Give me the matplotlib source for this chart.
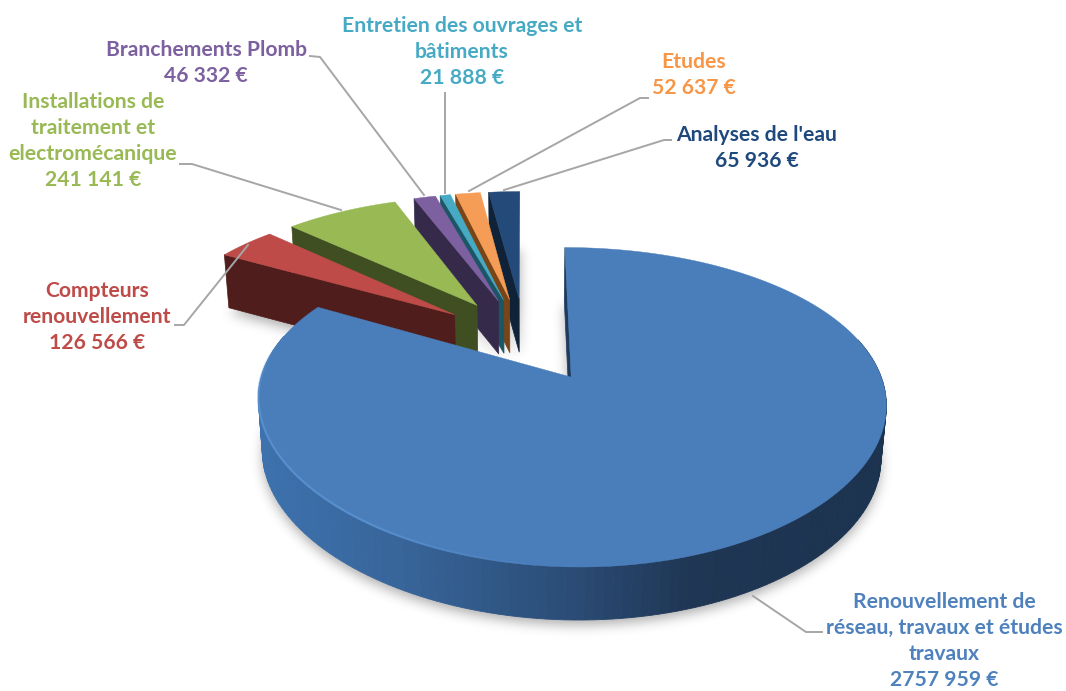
#!/usr/bin/env python3

import numpy as np
import matplotlib
matplotlib.use("Agg")
import matplotlib.pyplot as plt
from matplotlib.colors import LinearSegmentedColormap
from matplotlib.path import Path

plt.rcParams['font.family'] = ['Lato', 'DejaVu Sans']

# Pie data, clockwise from 12 o'clock
categories = ["Renouvellement de réseau, travaux et études travaux", "Compteurs renouvellement",
              "Installations de traitement et electromécanique", "Branchements Plomb",
              "Entretien des ouvrages et bâtiments", "Etudes", "Analyses de l'eau"]
values = [2757959, 126566, 241141, 46332, 21888, 52637, 65936]
labels = ["Renouvellement de\nréseau, travaux et études\ntravaux\n2757 959 €",
          "Compteurs\nrenouvellement\n126 566 €",
          "Installations de\ntraitement et\nelectromécanique\n241 141 €",
          "Branchements Plomb\n46 332 €",
          "Entretien des ouvrages et\nbâtiments\n21 888 €",
          "Etudes\n52 637 €",
          "Analyses de l'eau\n65 936 €"]

top_colors = ["#4a7ebb", "#be4b48", "#98b954", "#7d60a0", "#46aac5", "#f59d56", "#234a78"]
side_colors = ["#1f3a5f", "#4f1d1b", "#3f4f22", "#362a4a", "#1c5566", "#7a4516", "#0f2238"]

# Where the text goes (x, y of text centre, pixels) and its leader line
label_pos = [(944, 641), (97, 317), (93, 141), (206, 63), (462, 52), (694, 75), (757, 148)]
leaders = [[(822, 632), (806, 632), (753, 596)],
           [(175, 325), (184, 325), (248, 245)],
           [(180, 164), (192, 164), (341, 210)],
           [(310, 56), (320, 57), (424, 195)],
           [(445, 93), (445, 193)],
           [(648, 98), (640, 98), (469, 191)],
           [(671, 140), (664, 140), (504, 190)]]
label_colors = ["#4f81bd", "#be4b48", "#98b954", "#7d60a0", "#46aac5", "#f79646", "#1f497d"]

# Projection of the 3D pie
x0, y0 = 524.5, 339
scale_x, scale_y = 298, 140
persp_x, persp_y = 0.15, 0.18
explode = 0.30
depth = 53


def project(u, v, low=False):
    x = x0 + scale_x * u / (1 + persp_x * v)
    y = y0 - scale_y * v / (1 + persp_y * v)
    if low:
        x = x0 + (x - x0) * 0.985
        y = y + depth
    return x, y


def polar(theta, r=1.0):
    return r * np.sin(theta), r * np.cos(theta)


fractions = np.array(values) / sum(values)
edges = np.deg2rad(np.concatenate([[0], np.cumsum(fractions) * 360]))

fig = plt.figure(figsize=(10.66, 6.91), dpi=100)
ax = fig.add_axes([0, 0, 1, 1])
ax.set_xlim(0, 1066)
ax.set_ylim(691, 0)
ax.axis("off")

rim_cmap = LinearSegmentedColormap.from_list(
    "rim", [(0, "#3d72ae"), (0.23, "#38659a"), (0.5, "#2b4d77"), (0.7, "#1f3654"), (1, "#1c3350")])


def outline(i, n=200):
    mid = (edges[i] + edges[i + 1]) / 2
    au, av = polar(mid, explode)
    th = np.linspace(edges[i], edges[i + 1], n)
    us, vs = polar(th)
    return au, av, th, au + us, av + vs


def blur(img, sigma):
    t = np.arange(-3 * sigma, 3 * sigma + 1)
    kernel = np.exp(-t ** 2 / (2 * sigma ** 2))
    kernel = kernel / kernel.sum()
    img = np.apply_along_axis(lambda r: np.convolve(r, kernel, mode="same"), 0, img)
    return np.apply_along_axis(lambda r: np.convolve(r, kernel, mode="same"), 1, img)


# Soft shadow under all the slices
gx, gy = np.meshgrid(np.arange(1066) + 0.5, np.arange(691) + 0.5)
grid = np.c_[gx.ravel(), gy.ravel()]
mask = np.zeros(gx.shape)
for i in range(len(values)):
    au, av, th, us, vs = outline(i, 80)
    bx, by = project(np.r_[au, us], np.r_[av, vs], low=True)
    inside = Path(np.c_[bx, by + 5]).contains_points(grid).reshape(gx.shape)
    mask = np.maximum(mask, inside)
shadow = np.zeros(gx.shape + (4,))
shadow[..., 3] = blur(mask, 6) * 0.32
ax.imshow(shadow, extent=(0, 1066, 691, 0), interpolation="bilinear", aspect="auto", zorder=1)
ax.set_xlim(0, 1066)
ax.set_ylim(691, 0)

# Slices back to front: small ones from the right, the big one last
order = [6, 5, 4, 3, 2, 1, 0]
for z, i in enumerate(order):
    zb = 2 + z * 3
    au, av, th, us, vs = outline(i)
    tx, ty = project(np.r_[au, us], np.r_[av, vs])

    # Radial side at the starting edge
    sx, sy = project(np.array([au, us[0]]), np.array([av, vs[0]]))
    lx, ly = project(np.array([au, us[0]]), np.array([av, vs[0]]), low=True)
    ax.fill(np.r_[sx, lx[::-1]], np.r_[sy, ly[::-1]], color=side_colors[i], lw=0.5, zorder=zb)

    # Outer rim, cut into small quads so it can be shaded
    if i == 0:
        ux, uy = project(us, vs)
        dx, dy = project(us, vs, low=True)
        for k in range(len(th) - 1):
            deg = np.rad2deg(th[k])
            if 75 < deg < 285:
                shade = (ux[k] - 257) / (885 - 257)
                ax.fill([ux[k], ux[k + 1], dx[k + 1], dx[k]], [uy[k], uy[k + 1], dy[k + 1], dy[k]],
                        color=rim_cmap(shade), lw=0.6, zorder=zb + 1)
    # Top face
    ax.fill(tx, ty, color=top_colors[i], lw=0.3, zorder=zb + 2)

    # Light bevel along the front left of the big slice
    if i == 0:
        for k in range(len(th) - 1):
            deg = np.rad2deg(th[k])
            if 185 < deg < 282:
                fade = min((deg - 185) / 30, (282 - deg) / 15, 1)
                ax.plot(ux[k:k + 2], uy[k:k + 2] - 0.5, color="#629bdb", alpha=fade * 0.6,
                        lw=1.6, solid_capstyle="butt", zorder=zb + 3)

for i, (x, y) in enumerate(label_pos):
    ax.text(x, y, labels[i], color=label_colors[i], fontsize=15.2, fontweight="bold",
            ha="center", va="center", linespacing=1.38, zorder=40)
    pts = np.array(leaders[i])
    ax.plot(pts[:, 0], pts[:, 1], color="#a6a6a6", lw=1.4, zorder=30)

plt.savefig('out.png', dpi=100)
